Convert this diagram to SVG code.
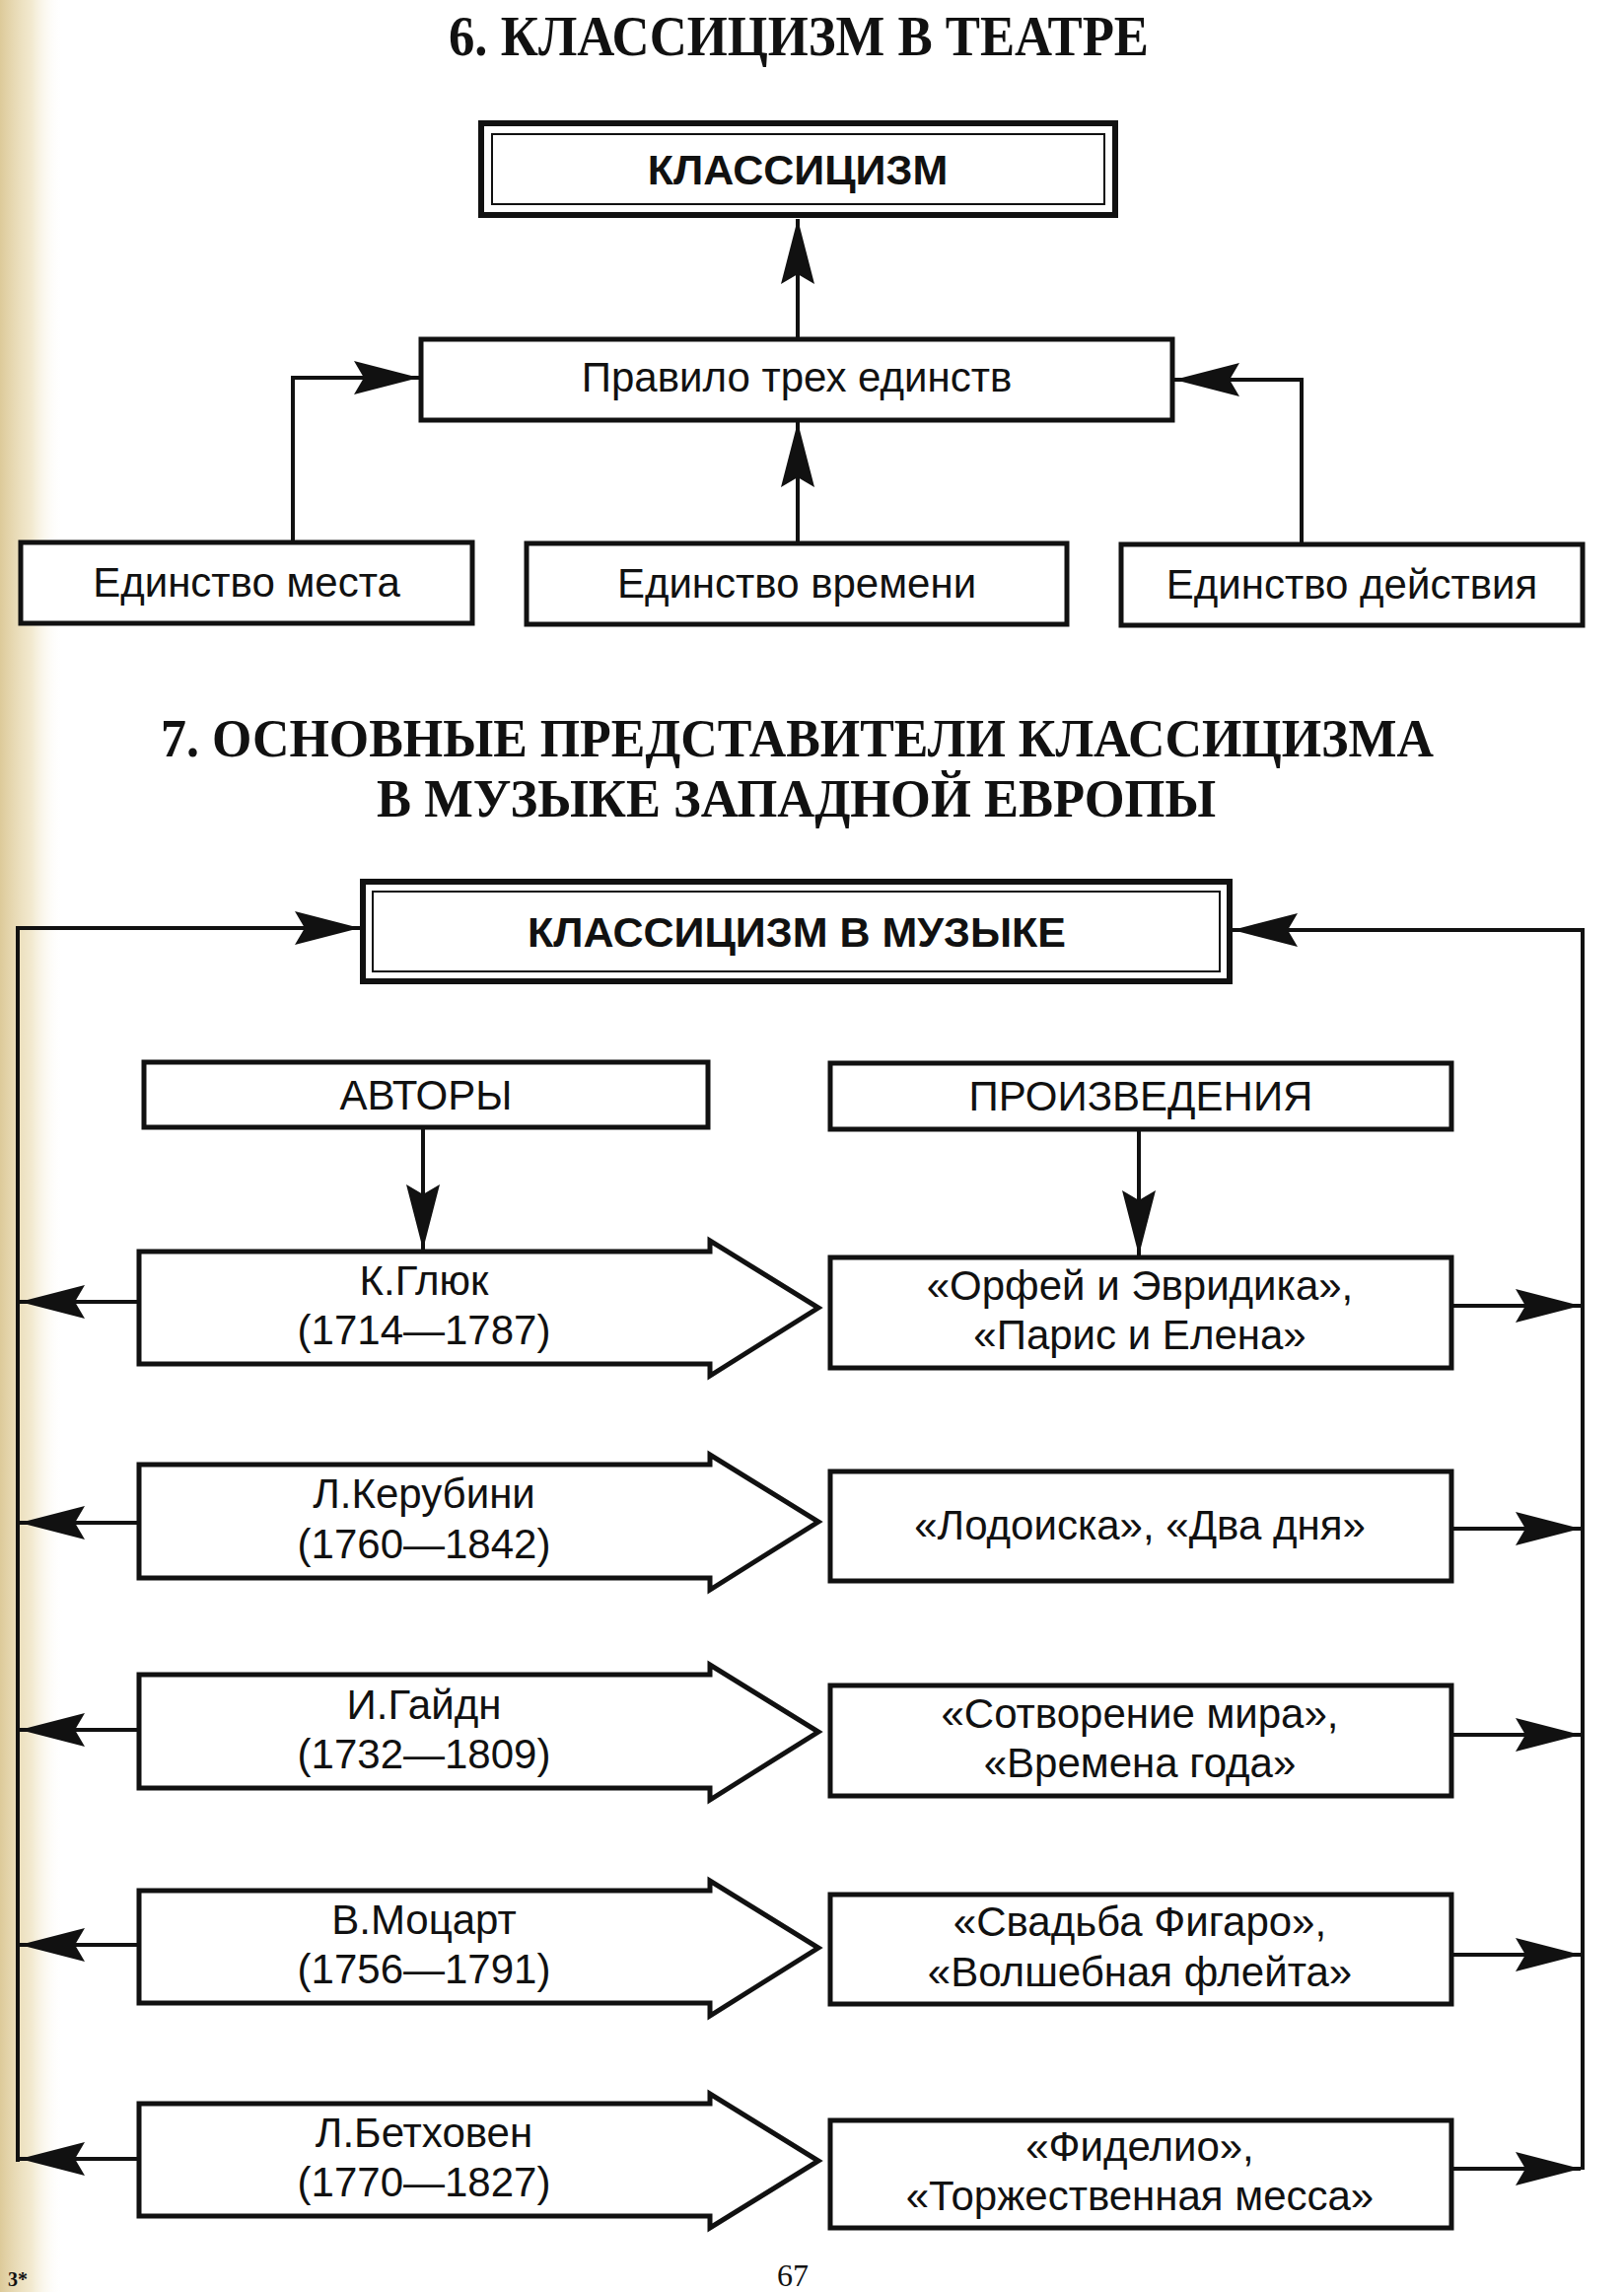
<svg xmlns="http://www.w3.org/2000/svg" width="1647" height="2324" viewBox="0 0 1647 2324">
<defs>
  <linearGradient id="paper" x1="0" y1="0" x2="1" y2="0">
    <stop offset="0" stop-color="#d9c48e" stop-opacity="0.9"/>
    <stop offset="0.5" stop-color="#eadbb0" stop-opacity="0.6"/>
    <stop offset="1" stop-color="#ffffff" stop-opacity="0"/>
  </linearGradient>
  <marker id="ah" viewBox="-68 -18 70 36" refX="0" refY="0" markerWidth="70" markerHeight="36" markerUnits="userSpaceOnUse" orient="auto">
    <path d="M0,0 L-66,-17 L-56,0 L-66,17 Z" fill="#111"/>
  </marker>
  <style>
    .box { fill: #fff; stroke: #111; stroke-width: 5; }
    .outer { fill: #fff; stroke: #111; stroke-width: 6; }
    .inner { fill: none; stroke: #111; stroke-width: 2; }
    .conn { fill: none; stroke: #111; stroke-width: 4; marker-end: url(#ah); }
    .t { font-family: "Liberation Sans", Arial, sans-serif; font-size: 42px; fill: #111; text-anchor: middle; }
    .tb { font-family: "Liberation Sans", Arial, sans-serif; font-size: 43px; font-weight: bold; fill: #111; text-anchor: middle; }
    .title { font-family: "Liberation Serif", "Times New Roman", serif; font-weight: bold; fill: #111; }
  </style>
</defs>
<rect x="0" y="0" width="1647" height="2324" fill="#ffffff"/>
<rect x="0" y="0" width="64" height="2324" fill="url(#paper)"/>

<!-- Section 6 -->
<text class="title" x="455" y="56" font-size="56" textLength="710" lengthAdjust="spacingAndGlyphs">6. КЛАССИЦИЗМ В ТЕАТРЕ</text>

<g id="node-klassicizm">
  <rect class="outer" x="488" y="125" width="643" height="93"/>
  <rect class="inner" x="499" y="136" width="621" height="71"/>
  <text class="tb" x="809" y="187">КЛАССИЦИЗМ</text>
</g>
<g id="node-pravilo">
  <rect class="box" x="427" y="344" width="762" height="82"/>
  <text class="t" x="808" y="397" font-size="43">Правило трех единств</text>
</g>
<g id="node-mesto">
  <rect class="box" x="21" y="550" width="458" height="82"/>
  <text class="t" x="250" y="605" font-size="43">Единство места</text>
</g>
<g id="node-vremya">
  <rect class="box" x="534" y="551" width="548" height="82"/>
  <text class="t" x="808" y="606" font-size="43">Единство времени</text>
</g>
<g id="node-deistvie">
  <rect class="box" x="1137" y="552" width="468" height="82"/>
  <text class="t" x="1371" y="607" font-size="43">Единство действия</text>
</g>

<!-- Section 7 -->
<text class="title" x="163" y="767" font-size="54" textLength="1291" lengthAdjust="spacingAndGlyphs">7. ОСНОВНЫЕ ПРЕДСТАВИТЕЛИ КЛАССИЦИЗМА</text>
<text class="title" x="382" y="828" font-size="54" textLength="851" lengthAdjust="spacingAndGlyphs">В МУЗЫКЕ ЗАПАДНОЙ ЕВРОПЫ</text>

<g id="node-muzyka">
  <rect class="outer" x="368" y="894" width="879" height="101"/>
  <rect class="inner" x="378" y="904" width="859" height="81"/>
  <text class="tb" x="808" y="960">КЛАССИЦИЗМ В МУЗЫКЕ</text>
</g>
<g id="node-avtory">
  <rect class="box" x="146" y="1077" width="572" height="66"/>
  <text class="t" x="432" y="1125">АВТОРЫ</text>
</g>
<g id="node-proizvedeniya">
  <rect class="box" x="842" y="1078" width="630" height="67"/>
  <text class="t" x="1157" y="1126">ПРОИЗВЕДЕНИЯ</text>
</g>

<g id="node-gluck">
  <polygon class="box" points="141,1269 720,1269 720,1258 830,1326 720,1395 720,1383 141,1383"/>
  <text class="t" x="430" y="1313">К.Глюк</text>
  <text class="t" x="430" y="1363">(1714—1787)</text>
</g>
<g id="node-cherubini">
  <polygon class="box" points="141,1485 720,1485 720,1475 830,1543 720,1612 720,1600 141,1600"/>
  <text class="t" x="430" y="1529">Л.Керубини</text>
  <text class="t" x="430" y="1580">(1760—1842)</text>
</g>
<g id="node-haydn">
  <polygon class="box" points="141,1698 720,1698 720,1688 830,1756 720,1825 720,1813 141,1813"/>
  <text class="t" x="430" y="1743">И.Гайдн</text>
  <text class="t" x="430" y="1793">(1732—1809)</text>
</g>
<g id="node-mozart">
  <polygon class="box" points="141,1917 720,1917 720,1907 830,1975 720,2044 720,2031 141,2031"/>
  <text class="t" x="430" y="1961">В.Моцарт</text>
  <text class="t" x="430" y="2011">(1756—1791)</text>
</g>
<g id="node-beethoven">
  <polygon class="box" points="141,2133 720,2133 720,2123 830,2191 720,2259 720,2247 141,2247"/>
  <text class="t" x="430" y="2177">Л.Бетховен</text>
  <text class="t" x="430" y="2227">(1770—1827)</text>
</g>

<g id="node-works-gluck">
  <rect class="box" x="842" y="1275" width="630" height="112"/>
  <text class="t" x="1156" y="1318">«Орфей и Эвридика»,</text>
  <text class="t" x="1156" y="1368">«Парис и Елена»</text>
</g>
<g id="node-works-cherubini">
  <rect class="box" x="842" y="1492" width="630" height="111"/>
  <text class="t" x="1156" y="1561">«Лодоиска», «Два дня»</text>
</g>
<g id="node-works-haydn">
  <rect class="box" x="842" y="1709" width="630" height="112"/>
  <text class="t" x="1156" y="1752">«Сотворение мира»,</text>
  <text class="t" x="1156" y="1802">«Времена года»</text>
</g>
<g id="node-works-mozart">
  <rect class="box" x="842" y="1921" width="630" height="111"/>
  <text class="t" x="1156" y="1963">«Свадьба Фигаро»,</text>
  <text class="t" x="1156" y="2014">«Волшебная флейта»</text>
</g>
<g id="node-works-beethoven">
  <rect class="box" x="842" y="2150" width="630" height="109"/>
  <text class="t" x="1156" y="2191">«Фиделио»,</text>
  <text class="t" x="1156" y="2241">«Торжественная месса»</text>
</g>

<g id="connectors">
  <path class="conn" d="M809,342 V222"/>
  <path class="conn" d="M297,548 V383 H425"/>
  <path class="conn" d="M1320,550 V385 H1191"/>
  <path class="conn" d="M809,549 V428"/>

  <path class="conn" d="M18,2192 V941 H365"/>
  <path class="conn" d="M1605,2200 V943 H1250"/>
  <path class="conn" d="M429,1145 V1267"/>
  <path class="conn" d="M1155,1147 V1273"/>

  <path class="conn" d="M141,1320 H20"/>
  <path class="conn" d="M141,1544 H20"/>
  <path class="conn" d="M141,1754 H20"/>
  <path class="conn" d="M141,1972 H20"/>
  <path class="conn" d="M141,2189 H20"/>

  <path class="conn" d="M1472,1324 H1603"/>
  <path class="conn" d="M1472,1550 H1603"/>
  <path class="conn" d="M1472,1759 H1603"/>
  <path class="conn" d="M1472,1982 H1603"/>
  <path class="conn" d="M1472,2199 H1603"/>
</g>

<text x="8" y="2318" font-family="'Liberation Serif', serif" font-weight="bold" font-size="20" fill="#111">3*</text>
<text x="804" y="2318" font-family="'Liberation Serif', serif" font-size="32" fill="#111" text-anchor="middle">67</text>
</svg>
